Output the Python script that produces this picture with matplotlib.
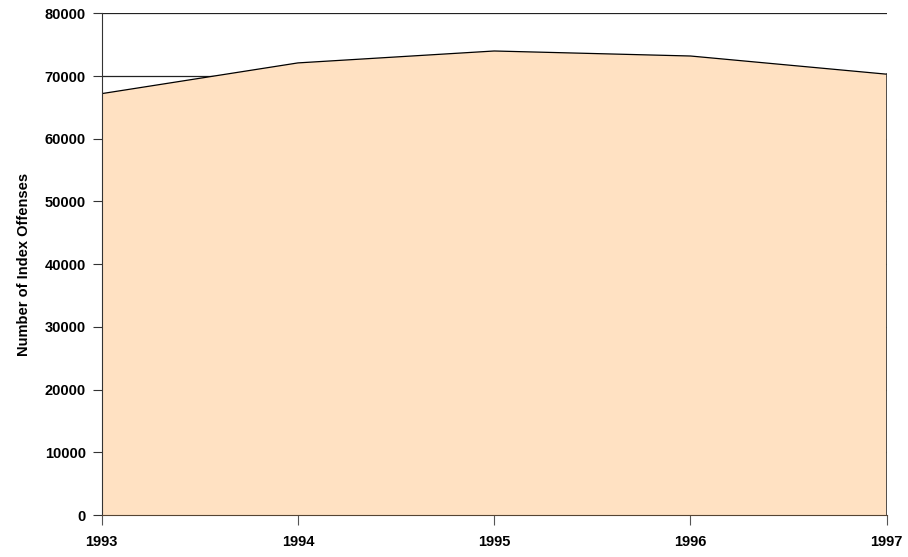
import matplotlib.pyplot as plt

# Index offenses per year
years = [1993, 1994, 1995, 1996, 1997]
offenses = [67200, 72100, 74000, 73200, 70300]
y_ticks = [0, 10000, 20000, 30000, 40000, 50000, 60000, 70000, 80000]

plt.rcParams['font.family'] = ['Liberation Sans', 'DejaVu Sans']
plt.rcParams['font.weight'] = 'bold'

fig = plt.figure(figsize=(9.08, 5.57), dpi=100)
ax = fig.add_axes([0.112, 0.0754, 0.8646, 0.9006])

ax.fill_between(years, offenses, 0, facecolor='#FFE1C2', edgecolor='none', zorder=2)
ax.plot(years, offenses, color='black', linewidth=0.9, zorder=3)
ax.plot([years[-1], years[-1]], [0, offenses[-1]], color='#333333', linewidth=1.2, zorder=3)

ax.set_xlim(years[0], years[-1])
ax.set_ylim(0, 80000)
ax.set_xticks(years)
ax.set_yticks(y_ticks)
ax.set_xticklabels([str(y) for y in years], fontsize=10.5, fontweight='bold')
ax.set_yticklabels([str(v) for v in y_ticks], fontsize=10.5, fontweight='bold')

ax.yaxis.grid(True, color='#222222', linewidth=0.9, zorder=1)
ax.set_axisbelow(True)

for side in ['top', 'right']:
    ax.spines[side].set_visible(False)
ax.spines['left'].set_color('#333333')
ax.spines['bottom'].set_color('#554433')
ax.spines['left'].set_zorder(4)
ax.spines['bottom'].set_zorder(4)

ax.tick_params(axis='y', direction='out', length=6.5, width=0.8, pad=5, color='#333333')
ax.tick_params(axis='x', direction='out', length=7.5, width=0.8, pad=7, color='#555555')

ax.set_ylabel('Number of Index Offenses', fontsize=10.5, fontweight='bold', labelpad=10)

plt.savefig('out.png', dpi=100)
